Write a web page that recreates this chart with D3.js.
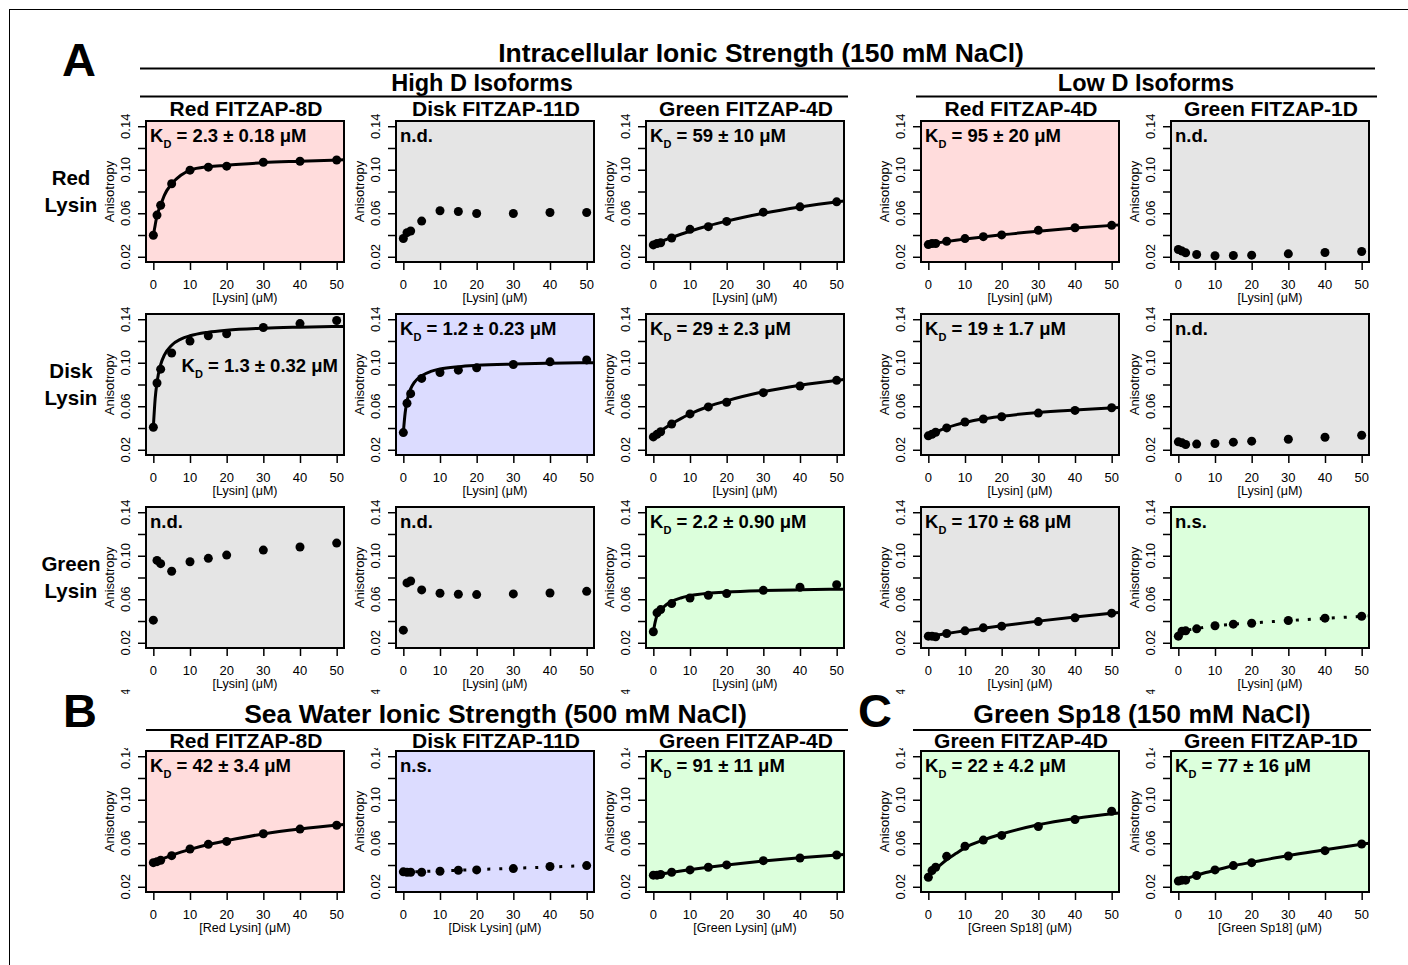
<!DOCTYPE html>
<html>
<head>
<meta charset="utf-8">
<script src="https://cdn.jsdelivr.net/npm/d3@7"></script>
<style>
  body { margin: 0; background: #fff; }
  svg { display: block; }
  text { font-family: "Liberation Sans", Arial, Helvetica, sans-serif; fill: #000; }
</style>
</head>
<body>
<svg id="fig" width="1408" height="965"></svg>
<script>
// titration points (uM) and the x grid the fitted curves were read at
var conc = [0, 1, 2, 5, 10, 15, 20, 30, 40, 50];
var fitConc = [0, 0.5, 1, 2, 3, 5, 7.5, 10, 15, 20, 30, 40, 52];
var yTicks = [0.02, 0.04, 0.06, 0.08, 0.10, 0.12, 0.14];
var yTickLabels = ["0.02", "", "0.06", "", "0.10", "", "0.14"];
var xTicks = [0, 10, 20, 30, 40, 50];

// A, row 1 : Red Lysin
var red8D_redLysin = [0.0398, 0.0583, 0.0674, 0.0871, 0.0996, 0.1024, 0.1033, 0.1069, 0.1078, 0.1090];
var disk11D_redLysin = [0.0368, 0.0422, 0.0437, 0.0528, 0.0623, 0.0616, 0.0598, 0.0598, 0.0607, 0.0607];
var green4D_redLysin = [0.0309, 0.0322, 0.0328, 0.0373, 0.0452, 0.0477, 0.0525, 0.0610, 0.0659, 0.0705];
var red4D_redLysin = [0.0312, 0.0322, 0.0322, 0.0343, 0.0367, 0.0385, 0.0401, 0.0443, 0.0467, 0.0489];
var green1D_redLysin = [0.0267, 0.0252, 0.0236, 0.0221, 0.0209, 0.0212, 0.0215, 0.0227, 0.0239, 0.0249];
// A, row 2 : Disk Lysin
var red8D_diskLysin = [0.0407, 0.0814, 0.0941, 0.1090, 0.1199, 0.1248, 0.1266, 0.1324, 0.1360, 0.1388];
var disk11D_diskLysin = [0.0358, 0.0628, 0.0716, 0.0856, 0.0910, 0.0932, 0.0953, 0.0984, 0.1008, 0.1026];
var green4D_diskLysin = [0.0318, 0.0342, 0.0366, 0.0436, 0.0530, 0.0594, 0.0637, 0.0725, 0.0786, 0.0838];
var red4D_diskLysin = [0.0328, 0.0343, 0.0361, 0.0401, 0.0455, 0.0483, 0.0504, 0.0537, 0.0562, 0.0586];
var green1D_diskLysin = [0.0273, 0.0264, 0.0249, 0.0252, 0.0258, 0.0270, 0.0279, 0.0297, 0.0315, 0.0334];
// A, row 3 : Green Lysin
var red8D_greenLysin = [0.0408, 0.0957, 0.0927, 0.0857, 0.0945, 0.0976, 0.1006, 0.1052, 0.1080, 0.1116];
var disk11D_greenLysin = [0.0316, 0.0750, 0.0768, 0.0686, 0.0655, 0.0646, 0.0643, 0.0649, 0.0658, 0.0673];
var green4D_greenLysin = [0.0301, 0.0475, 0.0505, 0.0560, 0.0612, 0.0637, 0.0652, 0.0682, 0.0710, 0.0734];
var red4D_greenLysin = [0.0261, 0.0261, 0.0255, 0.0285, 0.0310, 0.0337, 0.0353, 0.0395, 0.0430, 0.0472];
var green1D_greenLysin = [0.0261, 0.0307, 0.0310, 0.0328, 0.0356, 0.0371, 0.0380, 0.0405, 0.0426, 0.0444];
// B : 500 mM NaCl
var red8D_sea = [0.0422, 0.0431, 0.0444, 0.0486, 0.0547, 0.0590, 0.0617, 0.0687, 0.0730, 0.0766];
var disk11D_sea = [0.0337, 0.0334, 0.0334, 0.0334, 0.0343, 0.0352, 0.0355, 0.0367, 0.0386, 0.0395];
var green4D_sea = [0.0307, 0.0307, 0.0313, 0.0334, 0.0355, 0.0380, 0.0401, 0.0440, 0.0465, 0.0492];
// C : Green Sp18
var green4D_sp18 = [0.0288, 0.0349, 0.0380, 0.0480, 0.0572, 0.0629, 0.0672, 0.0754, 0.0818, 0.0894];
var green1D_sp18 = [0.0252, 0.0261, 0.0261, 0.0304, 0.0355, 0.0395, 0.0422, 0.0483, 0.0532, 0.0593];

var fit_red8D_redLysin = [0.0398, 0.0490, 0.0580, 0.0674, 0.0765, 0.0870, 0.0950, 0.0995, 0.1028, 0.1040, 0.1065, 0.1078, 0.1092];
var fit_green4D_redLysin = [0.0310, 0.0317, 0.0324, 0.0338, 0.0352, 0.0377, 0.0407, 0.0435, 0.0485, 0.0528, 0.0600, 0.0658, 0.0713];
var fit_red4D_redLysin = [0.0315, 0.0318, 0.0320, 0.0325, 0.0330, 0.0340, 0.0352, 0.0363, 0.0383, 0.0402, 0.0435, 0.0464, 0.0493];
var fit_red8D_diskLysin = [0.0407, 0.0671, 0.0820, 0.0983, 0.1070, 0.1161, 0.1217, 0.1248, 0.1281, 0.1299, 0.1318, 0.1327, 0.1334];
var fit_disk11D_diskLysin = [0.0358, 0.0540, 0.0645, 0.0760, 0.0820, 0.0880, 0.0920, 0.0942, 0.0964, 0.0976, 0.0988, 0.0995, 0.1001];
var fit_green4D_diskLysin = [0.0318, 0.0332, 0.0345, 0.0371, 0.0395, 0.0439, 0.0487, 0.0529, 0.0598, 0.0650, 0.0733, 0.0793, 0.0846];
var fit_red4D_diskLysin = [0.0328, 0.0337, 0.0346, 0.0362, 0.0377, 0.0402, 0.0429, 0.0451, 0.0485, 0.0508, 0.0543, 0.0566, 0.0589];
var fit_green4D_greenLysin = [0.0301, 0.0390, 0.0450, 0.0500, 0.0535, 0.0580, 0.0612, 0.0632, 0.0655, 0.0667, 0.0680, 0.0687, 0.0693];
var fit_red4D_greenLysin = [0.0258, 0.0261, 0.0264, 0.0269, 0.0274, 0.0285, 0.0298, 0.0310, 0.0334, 0.0357, 0.0399, 0.0437, 0.0479];
var fit_green1D_greenLysin = [0.0262, 0.0280, 0.0295, 0.0312, 0.0320, 0.0330, 0.0345, 0.0355, 0.0370, 0.0382, 0.0404, 0.0424, 0.0447];
var fit_red8D_sea = [0.0422, 0.0429, 0.0437, 0.0451, 0.0464, 0.0489, 0.0518, 0.0544, 0.0589, 0.0624, 0.0686, 0.0731, 0.0772];
var fit_disk11D_sea = [0.0335, 0.0335, 0.0336, 0.0337, 0.0338, 0.0340, 0.0343, 0.0346, 0.0352, 0.0358, 0.0370, 0.0382, 0.0397];
var fit_green4D_sea = [0.0305, 0.0308, 0.0311, 0.0316, 0.0322, 0.0332, 0.0345, 0.0357, 0.0380, 0.0400, 0.0436, 0.0466, 0.0497];
var fit_green4D_sp18 = [0.0295, 0.0313, 0.0331, 0.0364, 0.0393, 0.0448, 0.0505, 0.0560, 0.0630, 0.0685, 0.0770, 0.0828, 0.0878];
var fit_green1D_sp18 = [0.0252, 0.0258, 0.0263, 0.0274, 0.0284, 0.0305, 0.0331, 0.0352, 0.0393, 0.0425, 0.0488, 0.0540, 0.0601];

// layout
var colX = [146, 396, 646, 921, 1171];
var rowY = [121, 314, 507, 751];
var W = 198, H = 141;
var bgCol = { red: "#ffdcdc", grey: "#e5e5e5", blue: "#dcdcff", green: "#dcffdc" };

var panels = [
  { c: 0, r: 0, bg: "red", title: "Red FITZAP-8D", kd: "2.3 ± 0.18", pts: red8D_redLysin, fit: fit_red8D_redLysin },
  { c: 1, r: 0, bg: "grey", title: "Disk FITZAP-11D", note: "n.d.", pts: disk11D_redLysin },
  { c: 2, r: 0, bg: "grey", title: "Green FITZAP-4D", kd: "59 ± 10", pts: green4D_redLysin, fit: fit_green4D_redLysin },
  { c: 3, r: 0, bg: "red", title: "Red FITZAP-4D", kd: "95 ± 20", pts: red4D_redLysin, fit: fit_red4D_redLysin },
  { c: 4, r: 0, bg: "grey", title: "Green FITZAP-1D", note: "n.d.", pts: green1D_redLysin },

  { c: 0, r: 1, bg: "grey", kd: "1.3 ± 0.32", kdRight: true, pts: red8D_diskLysin, fit: fit_red8D_diskLysin },
  { c: 1, r: 1, bg: "blue", kd: "1.2 ± 0.23", pts: disk11D_diskLysin, fit: fit_disk11D_diskLysin },
  { c: 2, r: 1, bg: "grey", kd: "29 ± 2.3", pts: green4D_diskLysin, fit: fit_green4D_diskLysin },
  { c: 3, r: 1, bg: "grey", kd: "19 ± 1.7", pts: red4D_diskLysin, fit: fit_red4D_diskLysin },
  { c: 4, r: 1, bg: "grey", note: "n.d.", pts: green1D_diskLysin },

  { c: 0, r: 2, bg: "grey", note: "n.d.", pts: red8D_greenLysin },
  { c: 1, r: 2, bg: "grey", note: "n.d.", pts: disk11D_greenLysin },
  { c: 2, r: 2, bg: "green", kd: "2.2 ± 0.90", pts: green4D_greenLysin, fit: fit_green4D_greenLysin },
  { c: 3, r: 2, bg: "grey", kd: "170 ± 68", pts: red4D_greenLysin, fit: fit_red4D_greenLysin },
  { c: 4, r: 2, bg: "green", note: "n.s.", pts: green1D_greenLysin, fit: fit_green1D_greenLysin, dotted: true },

  { c: 0, r: 3, bg: "red", title: "Red FITZAP-8D", kd: "42 ± 3.4", pts: red8D_sea, fit: fit_red8D_sea, xlab: "[Red Lysin] (μM)" },
  { c: 1, r: 3, bg: "blue", title: "Disk FITZAP-11D", note: "n.s.", pts: disk11D_sea, fit: fit_disk11D_sea, dotted: true, xlab: "[Disk Lysin] (μM)" },
  { c: 2, r: 3, bg: "green", title: "Green FITZAP-4D", kd: "91 ± 11", pts: green4D_sea, fit: fit_green4D_sea, xlab: "[Green Lysin] (μM)" },
  { c: 3, r: 3, bg: "green", title: "Green FITZAP-4D", kd: "22 ± 4.2", pts: green4D_sp18, fit: fit_green4D_sp18, xlab: "[Green Sp18] (μM)" },
  { c: 4, r: 3, bg: "green", title: "Green FITZAP-1D", kd: "77 ± 16", pts: green1D_sp18, fit: fit_green1D_sp18, xlab: "[Green Sp18] (μM)" }
];

var svg = d3.select("#fig");
var defs = svg.append("defs");

// frame of the cropped figure
svg.append("line").attr("x1", 9).attr("y1", 9.5).attr("x2", 1408).attr("y2", 9.5).attr("stroke", "#000").attr("stroke-width", 1);
svg.append("line").attr("x1", 9.5).attr("y1", 9).attr("x2", 9.5).attr("y2", 965).attr("stroke", "#000").attr("stroke-width", 1);

function header(txt, cx, base, size) {
  svg.append("text").attr("x", cx).attr("y", base).attr("text-anchor", "middle")
    .attr("font-size", size).attr("font-weight", "bold").text(txt);
}
function rule(x1, x2, yy) {
  svg.append("line").attr("x1", x1).attr("x2", x2).attr("y1", yy).attr("y2", yy)
    .attr("stroke", "#000").attr("stroke-width", 2);
}

// panel letters
svg.append("text").attr("x", 62).attr("y", 76).attr("font-size", 47).attr("font-weight", "bold").text("A");
svg.append("text").attr("x", 63).attr("y", 727).attr("font-size", 47).attr("font-weight", "bold").text("B");
svg.append("text").attr("x", 858).attr("y", 727).attr("font-size", 47).attr("font-weight", "bold").text("C");

header("Intracellular Ionic Strength (150 mM NaCl)", 761, 62, 26.5);
rule(140, 1375, 68.5);
header("High D Isoforms", 482, 91, 23.5);
rule(140, 848, 96.5);
header("Low D Isoforms", 1146, 91, 23.5);
rule(916, 1377, 96.5);
header("Sea Water Ionic Strength (500 mM NaCl)", 495.5, 723, 26.5);
rule(146, 848, 730);
header("Green Sp18 (150 mM NaCl)", 1142, 723, 26.5);
rule(913, 1371, 730);

// row labels
var rowNames = [["Red", "Lysin"], ["Disk", "Lysin"], ["Green", "Lysin"]];
rowNames.forEach(function (nm, i) {
  var mid = rowY[i] + H / 2;
  svg.append("text").attr("x", 71).attr("y", mid - 6.5).attr("text-anchor", "middle")
    .attr("font-size", 20.5).attr("font-weight", "bold").text(nm[0]);
  svg.append("text").attr("x", 71).attr("y", mid + 20.5).attr("text-anchor", "middle")
    .attr("font-size", 20.5).attr("font-weight", "bold").text(nm[1]);
});

panels.forEach(function (p, i) {
  var x0 = colX[p.c], y0 = rowY[p.r];
  var x = d3.scaleLinear().domain([-2, 52]).range([x0, x0 + W]);
  var y = d3.scaleLinear().domain([0.0152, 0.1448]).range([y0 + H, y0]);
  var g = svg.append("g");

  g.append("rect").attr("x", x0).attr("y", y0).attr("width", W).attr("height", H)
    .attr("fill", bgCol[p.bg]);

  defs.append("clipPath").attr("id", "clip" + i)
    .append("rect").attr("x", x0).attr("y", y0).attr("width", W).attr("height", H);
  var inner = g.append("g").attr("clip-path", "url(#clip" + i + ")");

  if (p.fit) {
    var line = d3.line()
      .x(function (d, k) { return x(fitConc[k]); })
      .y(function (d) { return y(d); })
      .curve(d3.curveMonotoneX);
    inner.append("path").datum(p.fit).attr("d", line)
      .attr("fill", "none").attr("stroke", "#000")
      .attr("stroke-width", 3)
      .attr("stroke-dasharray", p.dotted ? "3 9" : null);
  }
  inner.selectAll("circle").data(p.pts).enter().append("circle")
    .attr("cx", function (d, k) { return x(conc[k]); })
    .attr("cy", function (d) { return y(d); })
    .attr("r", 4.5).attr("fill", "#000");

  g.append("rect").attr("x", x0).attr("y", y0).attr("width", W).attr("height", H)
    .attr("fill", "none").attr("stroke", "#000").attr("stroke-width", 2);

  // axes
  var ya = g.append("g").attr("transform", "translate(" + x0 + ",0)")
    .call(d3.axisLeft(y).tickValues(yTicks).tickSize(8).tickFormat(""));
  ya.select(".domain").remove();
  ya.selectAll("line").attr("stroke-width", 1.5);

  var xa = g.append("g").attr("transform", "translate(0," + (y0 + H) + ")")
    .call(d3.axisBottom(x).tickValues(xTicks).tickSize(8).tickFormat(""));
  xa.select(".domain").remove();
  xa.selectAll("line").attr("stroke-width", 1.5);

  g.selectAll(".xlab").data(xTicks).enter().append("text")
    .attr("x", function (d) { return x(d); }).attr("y", y0 + H + 26.7)
    .attr("text-anchor", "middle").attr("font-size", 13).attr("fill", "#222").text(function (d) { return d; });

  var labG = g.append("g");
  if (p.r === 3) {
    defs.append("clipPath").attr("id", "ylab" + i)
      .append("rect").attr("x", x0 - 40).attr("y", y0 - 3).attr("width", 40).attr("height", H + 10);
    labG.attr("clip-path", "url(#ylab" + i + ")");
  }
  labG.selectAll("text").data(yTicks).enter().append("text")
    .attr("transform", function (d) { return "translate(" + (x0 - 16.5) + "," + y(d) + ") rotate(-90)"; })
    .attr("text-anchor", "middle").attr("font-size", 13).attr("fill", "#222")
    .text(function (d, k) { return yTickLabels[k]; });

  if (p.r === 3) {
    // tops of the cut labels, left behind above the title in the original crop
    defs.append("clipPath").attr("id", "frag" + i)
      .append("rect").attr("x", x0 - 40).attr("y", 689.5).attr("width", 40).attr("height", 4.5);
    svg.append("g").attr("clip-path", "url(#frag" + i + ")").append("text")
      .attr("transform", "translate(" + (x0 - 16.5) + "," + (y(0.14) - 55) + ") rotate(-90)")
      .attr("text-anchor", "middle").attr("font-size", 13).attr("fill", "#222").text("0.14");
  }

  g.append("text")
    .attr("transform", "translate(" + (x0 - 32.5) + "," + (y0 + H / 2) + ") rotate(-90)")
    .attr("text-anchor", "middle").attr("font-size", 13).attr("fill", "#222").text("Anisotropy");

  g.append("text").attr("x", x0 + W / 2).attr("y", y0 + H + 40)
    .attr("text-anchor", "middle").attr("font-size", 12.5).attr("fill", "#222")
    .text(p.xlab || "[Lysin] (μM)");

  if (p.title) {
    g.append("text").attr("x", x0 + W / 2 + 1).attr("y", p.r === 3 ? y0 - 3 : y0 - 5)
      .attr("text-anchor", "middle").attr("font-size", 21).attr("font-weight", "bold").text(p.title);
  }

  if (p.note) {
    g.append("text").attr("x", x0 + 4).attr("y", y0 + 20.5)
      .attr("font-size", 18.5).attr("font-weight", "bold").text(p.note);
  }
  if (p.kd) {
    var t = g.append("text").attr("font-size", 18.5).attr("font-weight", "bold");
    if (p.kdRight) {
      t.attr("x", x0 + W - 6).attr("y", y0 + 58).attr("text-anchor", "end");
    } else {
      t.attr("x", x0 + 4).attr("y", y0 + 20.5);
    }
    t.append("tspan").text("K");
    t.append("tspan").attr("font-size", 11).attr("dy", 6).text("D");
    t.append("tspan").attr("dy", -6).text(" = " + p.kd + " μM");
  }
});
</script>
</body>
</html>
